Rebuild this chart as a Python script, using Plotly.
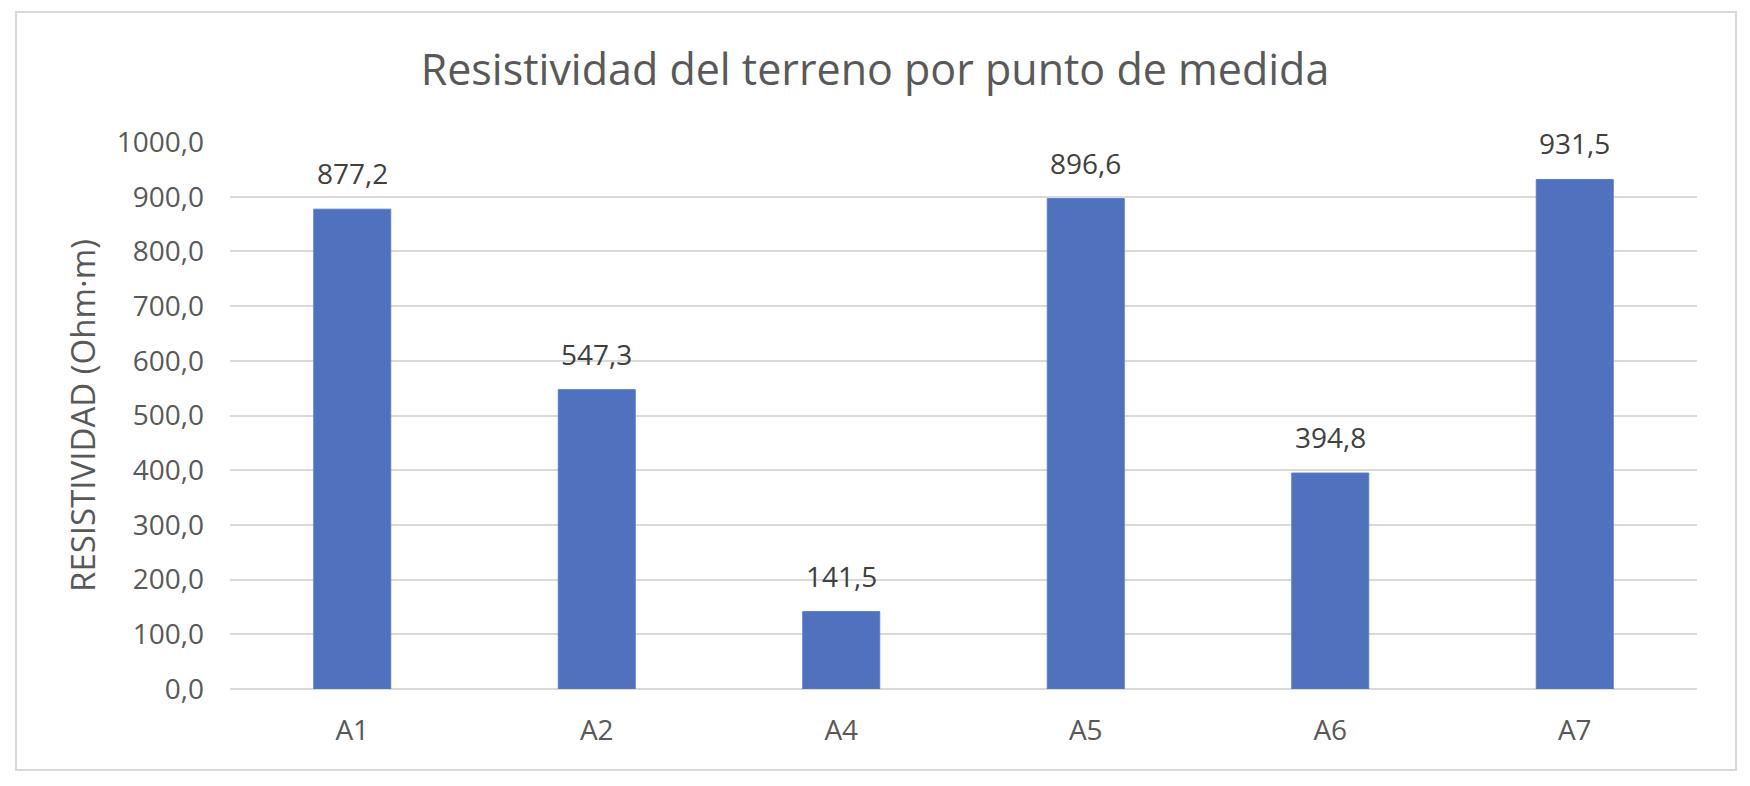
import plotly.graph_objects as go

categories = ["A1", "A2", "A4", "A5", "A6", "A7"]
values = [877.2, 547.3, 141.5, 896.6, 394.8, 931.5]
labels = ["877,2", "547,3", "141,5", "896,6", "394,8", "931,5"]
title_text = "Resistividad del terreno por punto de medida"
y_title = "RESISTIVIDAD (Ohm·m)"

W, H = 1750, 786
FONT = "Open Sans"

fig = go.Figure()
fig.add_trace(go.Bar(
    x=categories, y=values,
    marker=dict(color="#4F71BE", line=dict(color="#5B7DC8", width=1)),
    width=0.315,
    hoverinfo="x+y",
))

for c, v, t in zip(categories, values, labels):
    fig.add_annotation(x=c, y=v, text=t, showarrow=False, yanchor="bottom",
                       yshift=15, font=dict(family=FONT, size=28, color="#404040"))

fig.update_layout(
    width=W, height=H,
    margin=dict(l=230, r=53, t=142, b=97),
    paper_bgcolor="white", plot_bgcolor="white",
    separators=",.",
    showlegend=False,
    title=dict(text=title_text, x=0.5, xref="container", xanchor="center",
               y=1 - 70 / H, yref="container", yanchor="middle",
               font=dict(family=FONT, size=43, color="#595959")),
    xaxis=dict(showgrid=False, showline=False, zeroline=False,
               ticks="", ticklabelstandoff=22,
               tickfont=dict(family=FONT, size=28, color="#595959")),
    yaxis=dict(range=[0, 1000], dtick=100, tickformat=".1f",
               showgrid=True, gridcolor="#D9D9D9", gridwidth=1.5,
               zeroline=True, zerolinecolor="#D9D9D9", zerolinewidth=1.5,
               showline=False, ticks="", ticklabelstandoff=25,
               tickfont=dict(family=FONT, size=28, color="#595959"),
               title=dict(text=y_title, standoff=11,
                          font=dict(family=FONT, size=33, color="#595959"))),
    shapes=[dict(type="rect", xref="paper", yref="paper",
                 x0=(16 - 230) / (W - 230 - 53), x1=(1736 - 230) / (W - 230 - 53),
                 y0=(H - 97 - 770) / (H - 142 - 97) , y1=(H - 97 - 12) / (H - 142 - 97),
                 line=dict(color="#D9D9D9", width=2), layer="below")],
)

fig.write_html("out.html")
